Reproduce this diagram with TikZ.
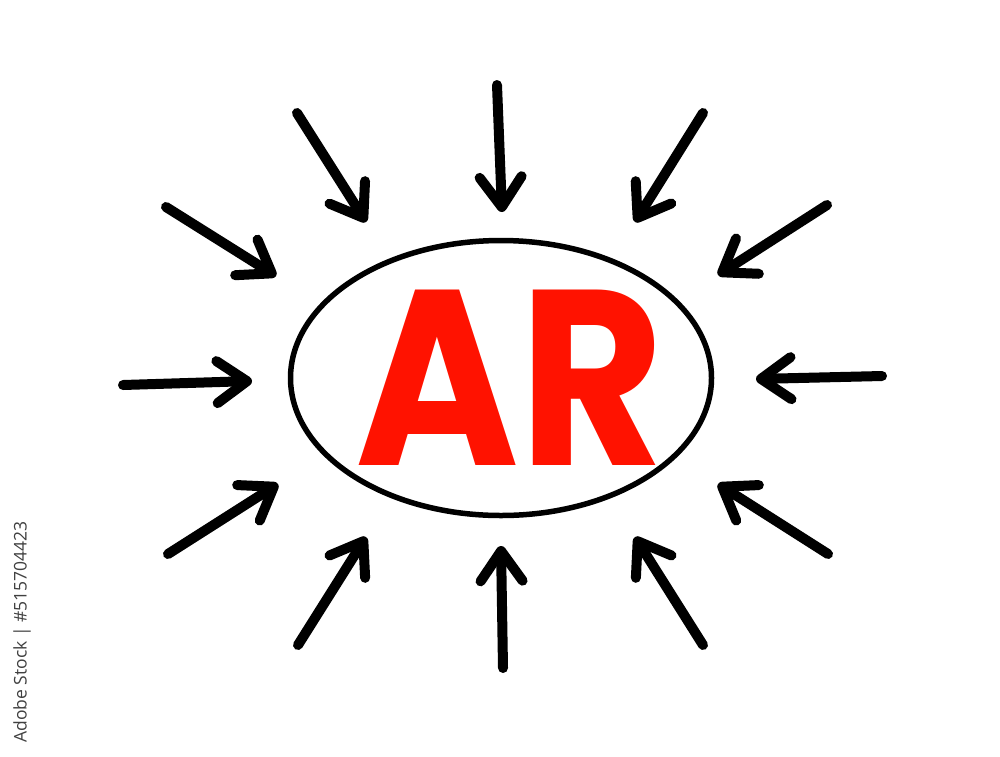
\documentclass[tikz,border=0pt]{standalone}
\usepackage{fontspec}
\usepackage{tikz}
\usetikzlibrary{arrows.meta,shapes.geometric}
\newfontfamily\letterfont{Poppins}
\newfontfamily\stockfont{Open Sans}
\definecolor{markerred}{HTML}{FF1200}
\tikzset{
  pointer/.style={line width=10pt, line cap=round, line join=round,
    -{Straight Barb[length=30pt,width=42pt,line cap=round,line join=round]}},
  oval/.style={draw, ellipse, line width=5.5pt, inner sep=0pt,
    minimum width=421pt, minimum height=275pt}
}
\begin{document}
\begin{tikzpicture}[x=1pt,y=-1pt]
\useasboundingbox (0,0) rectangle (1000,756);
\node[oval] (ring) at (501,378) {};
\node[text=markerred, xscale=0.89,
  font=\letterfont\bfseries\fontsize{250}{250}\selectfont]
  (word) at (510,378) {AR};
% arrows pointing in
\foreach \i/\sx/\sy/\tx/\ty in {
  1/497/85/502/212, 2/297/113/366/222, 3/703/113/635/222,
  4/166/207/276/276, 5/827/205/718/275, 6/123/385/252/381,
  7/882/376/756/379, 8/168/554/278/484, 9/828/554/718/484,
  10/298/645/366/537, 11/503/668/501/546, 12/703/645/635/537}
{
  \coordinate (from\i) at (\sx,\sy);
  \coordinate (to\i) at (\tx,\ty);
  \draw[pointer] (from\i) -- (to\i);
}
\node[rotate=90, text=black!75, font=\stockfont\fontsize{17.5}{17.5}\selectfont]
  (stockid) at (22,632) {Adobe Stock | \#515704423};
\end{tikzpicture}
\end{document}
